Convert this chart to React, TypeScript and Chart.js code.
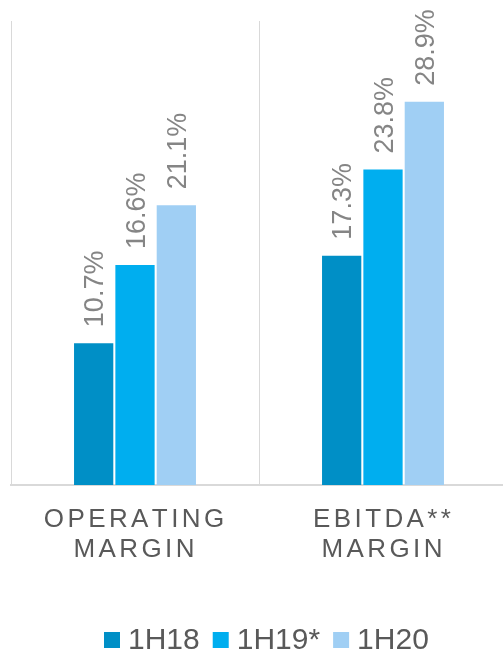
import React, { useEffect, useRef } from "react";
import { Chart, registerables } from "chart.js";

Chart.register(...registerables);

const categories: string[][] = [["OPERATING", "MARGIN"], ["EBITDA**", "MARGIN"]];
const seriesNames = ["1H18", "1H19*", "1H20"];
const series1H18 = [10.7, 17.3];
const series1H19 = [16.6, 23.8];
const series1H20 = [21.1, 28.9];
const colors = ["#008FC6", "#00AEEF", "#A0CFF4"];

const FONT = "'Liberation Sans', Arial, sans-serif";

function drawSpaced(ctx: CanvasRenderingContext2D, text: string, cx: number, y: number, spacing: number) {
  const chars = Array.from(text);
  const ws = chars.map((c) => ctx.measureText(c).width);
  const total = ws.reduce((a, b) => a + b, 0) + spacing * (chars.length - 1);
  let x = cx - total / 2;
  ctx.textAlign = "left";
  chars.forEach((c, i) => {
    ctx.fillText(c, x, y);
    x += ws[i] + spacing;
  });
}

const labelsPlugin = {
  id: "customLabels",
  afterDatasetsDraw(chart: any) {
    const ctx = chart.ctx as CanvasRenderingContext2D;
    ctx.save();
    // data labels
    ctx.font = `27px ${FONT}`;
    ctx.fillStyle = "#858585";
    chart.data.datasets.forEach((ds: any, di: number) => {
      const meta = chart.getDatasetMeta(di);
      meta.data.forEach((bar: any, i: number) => {
        const v = ds.data[i];
        const txt = v.toFixed(1) + "%";
        ctx.save();
        ctx.translate(bar.x + 9.8, bar.y - 16);
        ctx.rotate(-Math.PI / 2);
        ctx.textAlign = "left";
        ctx.textBaseline = "alphabetic";
        ctx.fillText(txt, 0, 0);
        ctx.restore();
      });
    });
    // category labels
    const xScale = chart.scales.x;
    ctx.font = `26px ${FONT}`;
    ctx.fillStyle = "#595959";
    ctx.textBaseline = "alphabetic";
    categories.forEach((lines, i) => {
      const x = xScale.getPixelForValue(i) - 1;
      lines.forEach((line, li) => {
        drawSpaced(ctx, line, x, xScale.bottom + 42 + li * 30, 3.4);
      });
    });
    // legend
    ctx.font = `30px ${FONT}`;
    ctx.textAlign = "left";
    const box = 16;
    const gapBoxText = 8;
    const gapItems = 13;
    const widths = chart.data.datasets.map((ds: any) => ctx.measureText(ds.label).width);
    let total = 0;
    widths.forEach((w: number, i: number) => {
      total += box + gapBoxText + w + (i < widths.length - 1 ? gapItems : 0);
    });
    let x = 104;
    const yBox = 632;
    chart.data.datasets.forEach((ds: any, i: number) => {
      ctx.fillStyle = ds.backgroundColor;
      ctx.fillRect(x, yBox, box, box);
      x += box + gapBoxText;
      ctx.fillStyle = "#595959";
      ctx.fillText(ds.label, x, 649);
      x += widths[i] + gapItems;
    });
    ctx.restore();
  },
};

export default function App() {
  const ref = useRef<HTMLCanvasElement | null>(null);
  useEffect(() => {
    document.body.style.margin = "0";
    document.body.style.overflow = "hidden";
    document.documentElement.style.overflow = "hidden";
    const canvas = ref.current!;
    const chart = new Chart(canvas, {
      type: "bar",
      data: {
        labels: categories.map((c) => c.join(" ")),
        datasets: [series1H18, series1H19, series1H20].map((d, i) => ({
          label: seriesNames[i],
          data: d,
          backgroundColor: colors[i],
          borderWidth: 0,
        })),
      },
      options: {
        responsive: false,
        devicePixelRatio: 1,
        animation: false,
        layout: { padding: { left: 11, right: 13, top: 21, bottom: 168 } },
        plugins: { legend: { display: false }, tooltip: { enabled: false } },
        datasets: { bar: { categoryPercentage: 0.5, barPercentage: 0.95 } },
        scales: {
          x: {
            grid: { offset: true, drawTicks: false, color: "#D9D9D9", lineWidth: 1 },
            border: { display: true, color: "#D9D9D9", width: 2 },
            ticks: { display: false },
          },
          y: {
            display: false,
            min: 0,
            max: 35,
          },
        },
      },
      plugins: [labelsPlugin],
    });
    return () => chart.destroy();
  }, []);
  return (
    <div style={{ position: "fixed", left: 0, top: 0, width: 503, height: 653, overflow: "hidden", background: "#fff" }}>
      <canvas ref={ref} width={520} height={653} />
    </div>
  );
}
